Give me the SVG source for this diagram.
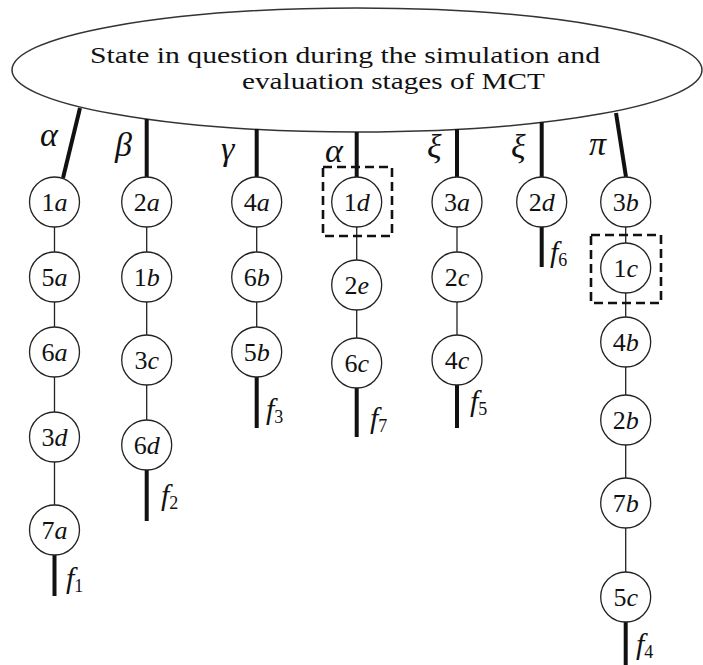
<svg xmlns="http://www.w3.org/2000/svg" width="703" height="665" viewBox="0 0 703 665">
<style>
text{font-family:"Liberation Serif","Times New Roman",serif;fill:#111}
.n circle{fill:#fff;stroke:#222;stroke-width:1.3}
.n text{font-size:26px;text-anchor:middle}
.i{font-style:italic}
.thin{stroke:#222;stroke-width:1.3;fill:none}
.thick{stroke:#111;stroke-width:4;fill:none}
.box{fill:none;stroke:#111;stroke-width:2.6;stroke-dasharray:9 5}
.g{font-size:34px;font-style:italic}
.f{font-size:30px;font-style:italic}
.sub{font-size:18px;font-style:normal}
</style>
<rect width="703" height="665" fill="#fff"/>
<g id="root">
<ellipse cx="357" cy="70" rx="345" ry="62" fill="#fff" stroke="#333" stroke-width="1.5"/>
<text x="90" y="63" font-size="23" textLength="510" lengthAdjust="spacingAndGlyphs">State in question during the simulation and</text>
<text x="242" y="89" font-size="23" textLength="303" lengthAdjust="spacingAndGlyphs">evaluation stages of MCT</text>
</g>
<g id="connectors">
<line class="thick" x1="80" y1="108" x2="63" y2="178"/>
<line class="thick" x1="146.7" y1="119" x2="146.7" y2="177"/>
<line class="thick" x1="256.7" y1="129" x2="256.7" y2="177"/>
<line class="thick" x1="356.7" y1="132" x2="356.7" y2="177"/>
<line class="thick" x1="457" y1="129" x2="457" y2="177"/>
<line class="thick" x1="541.7" y1="122" x2="541.7" y2="177"/>
<line class="thick" x1="616" y1="113" x2="626" y2="177"/>
<line class="thin" x1="54.5" y1="202" x2="54.5" y2="530"/>
<line class="thin" x1="146.7" y1="202" x2="146.7" y2="445"/>
<line class="thin" x1="256.7" y1="202" x2="256.7" y2="352"/>
<line class="thin" x1="356.7" y1="202" x2="356.7" y2="363"/>
<line class="thin" x1="457" y1="202" x2="457" y2="360"/>
<line class="thin" x1="625.7" y1="202" x2="625.7" y2="597"/>
<line class="thick" x1="54.5" y1="555" x2="54.5" y2="596"/>
<line class="thick" x1="146.7" y1="470" x2="146.7" y2="521"/>
<line class="thick" x1="256.7" y1="377" x2="256.7" y2="428"/>
<line class="thick" x1="356.7" y1="388" x2="356.7" y2="437"/>
<line class="thick" x1="457" y1="385" x2="457" y2="428"/>
<line class="thick" x1="541.7" y1="226" x2="541.7" y2="267"/>
<line class="thick" x1="625.7" y1="622" x2="625.7" y2="665"/>
</g>
<g id="labels">
<text class="g" x="40" y="146">α</text>
<text class="g" x="115" y="156">β</text>
<text class="g" x="221" y="160">γ</text>
<text class="g" x="325" y="162">α</text>
<text class="g" x="427" y="158">ξ</text>
<text class="g" x="511" y="158">ξ</text>
<text class="g" x="589" y="155">π</text>
<text class="f" x="66" y="588">f<tspan class="sub" dy="4">1</tspan></text>
<text class="f" x="161" y="505">f<tspan class="sub" dy="4">2</tspan></text>
<text class="f" x="266" y="419">f<tspan class="sub" dy="4">3</tspan></text>
<text class="f" x="636" y="654">f<tspan class="sub" dy="4">4</tspan></text>
<text class="f" x="470" y="411">f<tspan class="sub" dy="4">5</tspan></text>
<text class="f" x="550" y="262">f<tspan class="sub" dy="4">6</tspan></text>
<text class="f" x="370" y="428">f<tspan class="sub" dy="4">7</tspan></text>
</g>
<g id="n1a" class="n"><circle cx="54.5" cy="202" r="25"/><text x="54.5" y="211">1<tspan class="i">a</tspan></text></g>
<g id="n5a" class="n"><circle cx="54.5" cy="277" r="25"/><text x="54.5" y="286">5<tspan class="i">a</tspan></text></g>
<g id="n6a" class="n"><circle cx="54.5" cy="352" r="25"/><text x="54.5" y="361">6<tspan class="i">a</tspan></text></g>
<g id="n3d" class="n"><circle cx="54.5" cy="437" r="25"/><text x="54.5" y="446">3<tspan class="i">d</tspan></text></g>
<g id="n7a" class="n"><circle cx="54.5" cy="530" r="25"/><text x="54.5" y="539">7<tspan class="i">a</tspan></text></g>
<g id="n2a" class="n"><circle cx="146.7" cy="202" r="25"/><text x="146.7" y="211">2<tspan class="i">a</tspan></text></g>
<g id="n1b" class="n"><circle cx="146.7" cy="277" r="25"/><text x="146.7" y="286">1<tspan class="i">b</tspan></text></g>
<g id="n3c" class="n"><circle cx="146.7" cy="360" r="25"/><text x="146.7" y="369">3<tspan class="i">c</tspan></text></g>
<g id="n6d" class="n"><circle cx="146.7" cy="445" r="25"/><text x="146.7" y="454">6<tspan class="i">d</tspan></text></g>
<g id="n4a" class="n"><circle cx="256.7" cy="202" r="25"/><text x="256.7" y="211">4<tspan class="i">a</tspan></text></g>
<g id="n6b" class="n"><circle cx="256.7" cy="277" r="25"/><text x="256.7" y="286">6<tspan class="i">b</tspan></text></g>
<g id="n5b" class="n"><circle cx="256.7" cy="352" r="25"/><text x="256.7" y="361">5<tspan class="i">b</tspan></text></g>
<g id="n1d" class="n"><circle cx="356.7" cy="202" r="25"/><text x="356.7" y="211">1<tspan class="i">d</tspan></text><rect class="box" x="323" y="167" width="69" height="69"/></g>
<g id="n2e" class="n"><circle cx="356.7" cy="285" r="25"/><text x="356.7" y="294">2<tspan class="i">e</tspan></text></g>
<g id="n6c" class="n"><circle cx="356.7" cy="363" r="25"/><text x="356.7" y="372">6<tspan class="i">c</tspan></text></g>
<g id="n3a" class="n"><circle cx="457" cy="202" r="25"/><text x="457" y="211">3<tspan class="i">a</tspan></text></g>
<g id="n2c" class="n"><circle cx="457" cy="277" r="25"/><text x="457" y="286">2<tspan class="i">c</tspan></text></g>
<g id="n4c" class="n"><circle cx="457" cy="360" r="25"/><text x="457" y="369">4<tspan class="i">c</tspan></text></g>
<g id="n2d" class="n"><circle cx="541.7" cy="202" r="25"/><text x="541.7" y="211">2<tspan class="i">d</tspan></text></g>
<g id="n3b" class="n"><circle cx="625.7" cy="202" r="25"/><text x="625.7" y="211">3<tspan class="i">b</tspan></text></g>
<g id="n1c" class="n"><circle cx="625.7" cy="268" r="25"/><text x="625.7" y="277">1<tspan class="i">c</tspan></text><rect class="box" x="591" y="235" width="70" height="68"/></g>
<g id="n4b" class="n"><circle cx="625.7" cy="342" r="25"/><text x="625.7" y="351">4<tspan class="i">b</tspan></text></g>
<g id="n2b" class="n"><circle cx="625.7" cy="420" r="25"/><text x="625.7" y="429">2<tspan class="i">b</tspan></text></g>
<g id="n7b" class="n"><circle cx="625.7" cy="503" r="25"/><text x="625.7" y="512">7<tspan class="i">b</tspan></text></g>
<g id="n5c" class="n"><circle cx="625.7" cy="597" r="25"/><text x="625.7" y="606">5<tspan class="i">c</tspan></text></g>
</svg>
